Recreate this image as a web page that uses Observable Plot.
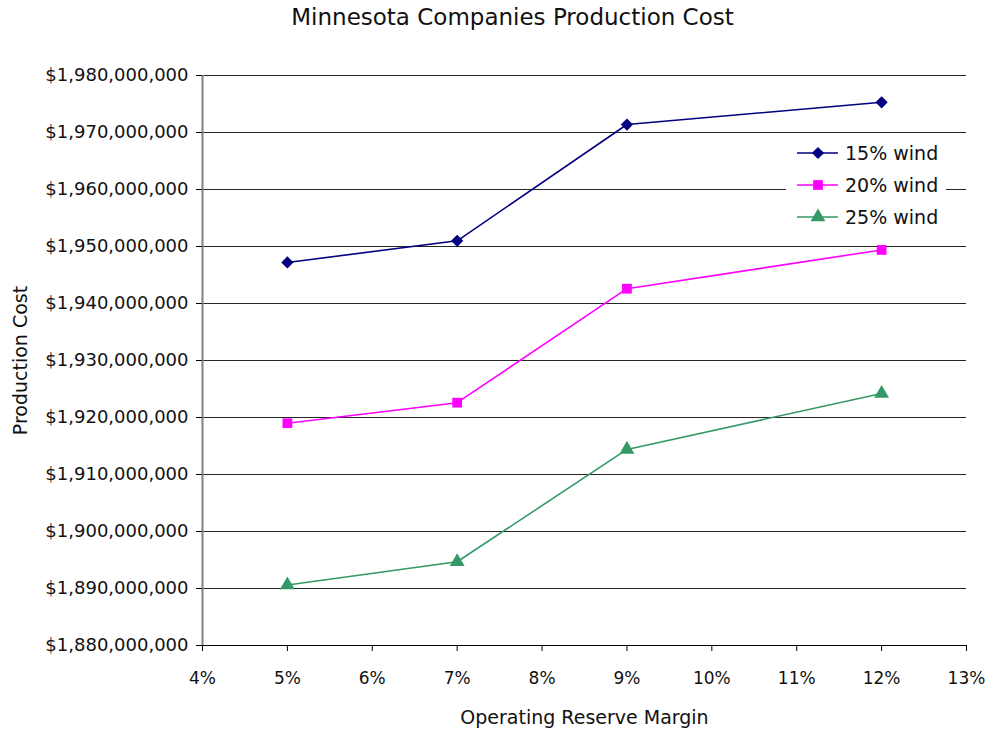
<!DOCTYPE html>
<html>
<head>
<meta charset="utf-8">
<script src="https://cdn.jsdelivr.net/npm/d3@7"></script>
<script src="https://cdn.jsdelivr.net/npm/@observablehq/plot@0.6"></script>
<style>
  body { margin: 0; background: #fff; font-family: "DejaVu Sans", sans-serif; }
  #wrap { position: relative; width: 989px; height: 734px; }
  #title { position: absolute; left: 36px; top: 4px; width: 953px; text-align: center; font-size: 23px; color: #111; }
  #chart { position: absolute; left: 0; top: 40px; }
  #legend { position: absolute; left: 786px; top: 136px; width: 160px; height: 98px; background: #fff; }
  #legend svg { display: block; }
</style>
</head>
<body>
<div id="wrap">
  <div id="title">Minnesota Companies Production Cost</div>
  <div id="chart"></div>
  <div id="legend"></div>
</div>
<script>
// Data
const margins = [0.05, 0.07, 0.09, 0.12];
const wind15 = [1947200000, 1951000000, 1971400000, 1975300000];
const wind20 = [1919000000, 1922600000, 1942600000, 1949400000];
const wind25 = [1890600000, 1894700000, 1914400000, 1924200000];
const seriesNames = ["15% wind", "20% wind", "25% wind"];
const seriesColors = ["#000080", "#FF00FF", "#339966"];
const seriesSymbols = ["diamond2", "square", "triangle"];
const xTicks = [0.04, 0.05, 0.06, 0.07, 0.08, 0.09, 0.10, 0.11, 0.12, 0.13];
const yTicks = d3.range(1880000000, 1980000001, 10000000);
const xLabel = "Operating Reserve Margin";
const yLabel = "Production Cost";

const allSeries = [wind15, wind20, wind25];
const rows = [];
allSeries.forEach((vals, s) => {
  vals.forEach((v, i) => rows.push({series: seriesNames[s], x: margins[i], y: v}));
});

const fmtPct = d3.format(".0%");
const fmtUsd = d3.format("$,");

const plot = Plot.plot({
  width: 989,
  height: 694,
  marginLeft: 202,
  marginRight: 23,
  marginTop: 35,
  marginBottom: 89,
  style: {fontFamily: "DejaVu Sans, sans-serif", fontSize: "17px", color: "#111", background: "#fff"},
  x: {domain: [0.04, 0.13]},
  y: {domain: [1880000000, 1980000000]},
  color: {domain: seriesNames, range: seriesColors},
  symbol: {domain: seriesNames, range: seriesSymbols},
  marks: [
    Plot.gridY(yTicks, {stroke: "#000", strokeOpacity: 0.85, strokeWidth: 1}),
    Plot.ruleX([0.04], {stroke: "#808080", strokeWidth: 2}),
    Plot.ruleY([1880000000], {stroke: "#000", strokeWidth: 1}),
    Plot.axisY(yTicks, {tickFormat: fmtUsd, tickSize: 6, tickPadding: 8, stroke: "#000", label: null, fontSize: 18}),
    Plot.axisX(xTicks, {tickFormat: fmtPct, tickSize: 6, tickPadding: 20, stroke: "#000", label: null, fontSize: 17}),
    Plot.text([xLabel], {frameAnchor: "bottom", dy: 78, fontSize: 19, fill: "#111"}),
    Plot.text([yLabel], {frameAnchor: "left", dx: -182, rotate: -90, textAnchor: "middle", fontSize: 19, fill: "#111"}),
    Plot.line(rows, {x: "x", y: "y", z: "series", stroke: "series", strokeWidth: 1.6}),
    Plot.dot(rows, {x: "x", y: "y", symbol: "series", fill: "series", stroke: "none", r: 5.5})
  ]
});
document.getElementById("chart").appendChild(plot);

// Legend
const lg = d3.select("#legend").append("svg").attr("width", 160).attr("height", 98);
const symMap = {diamond2: d3.symbolDiamond2, square: d3.symbolSquare, triangle: d3.symbolTriangle};
seriesNames.forEach((name, i) => {
  const cy = 17 + i * 32;
  const g = lg.append("g").attr("transform", `translate(0,${cy})`);
  g.append("line").attr("x1", 11).attr("x2", 52).attr("y1", 0).attr("y2", 0)
    .attr("stroke", seriesColors[i]).attr("stroke-width", 1.6);
  g.append("path").attr("transform", "translate(32,0)")
    .attr("d", d3.symbol(symMap[seriesSymbols[i]], 95)()).attr("fill", seriesColors[i]);
  g.append("text").attr("x", 59).attr("y", 0).attr("dy", "0.35em")
    .attr("font-size", 19).attr("fill", "#111").attr("font-family", "DejaVu Sans, sans-serif").text(name);
});
</script>
</body>
</html>
